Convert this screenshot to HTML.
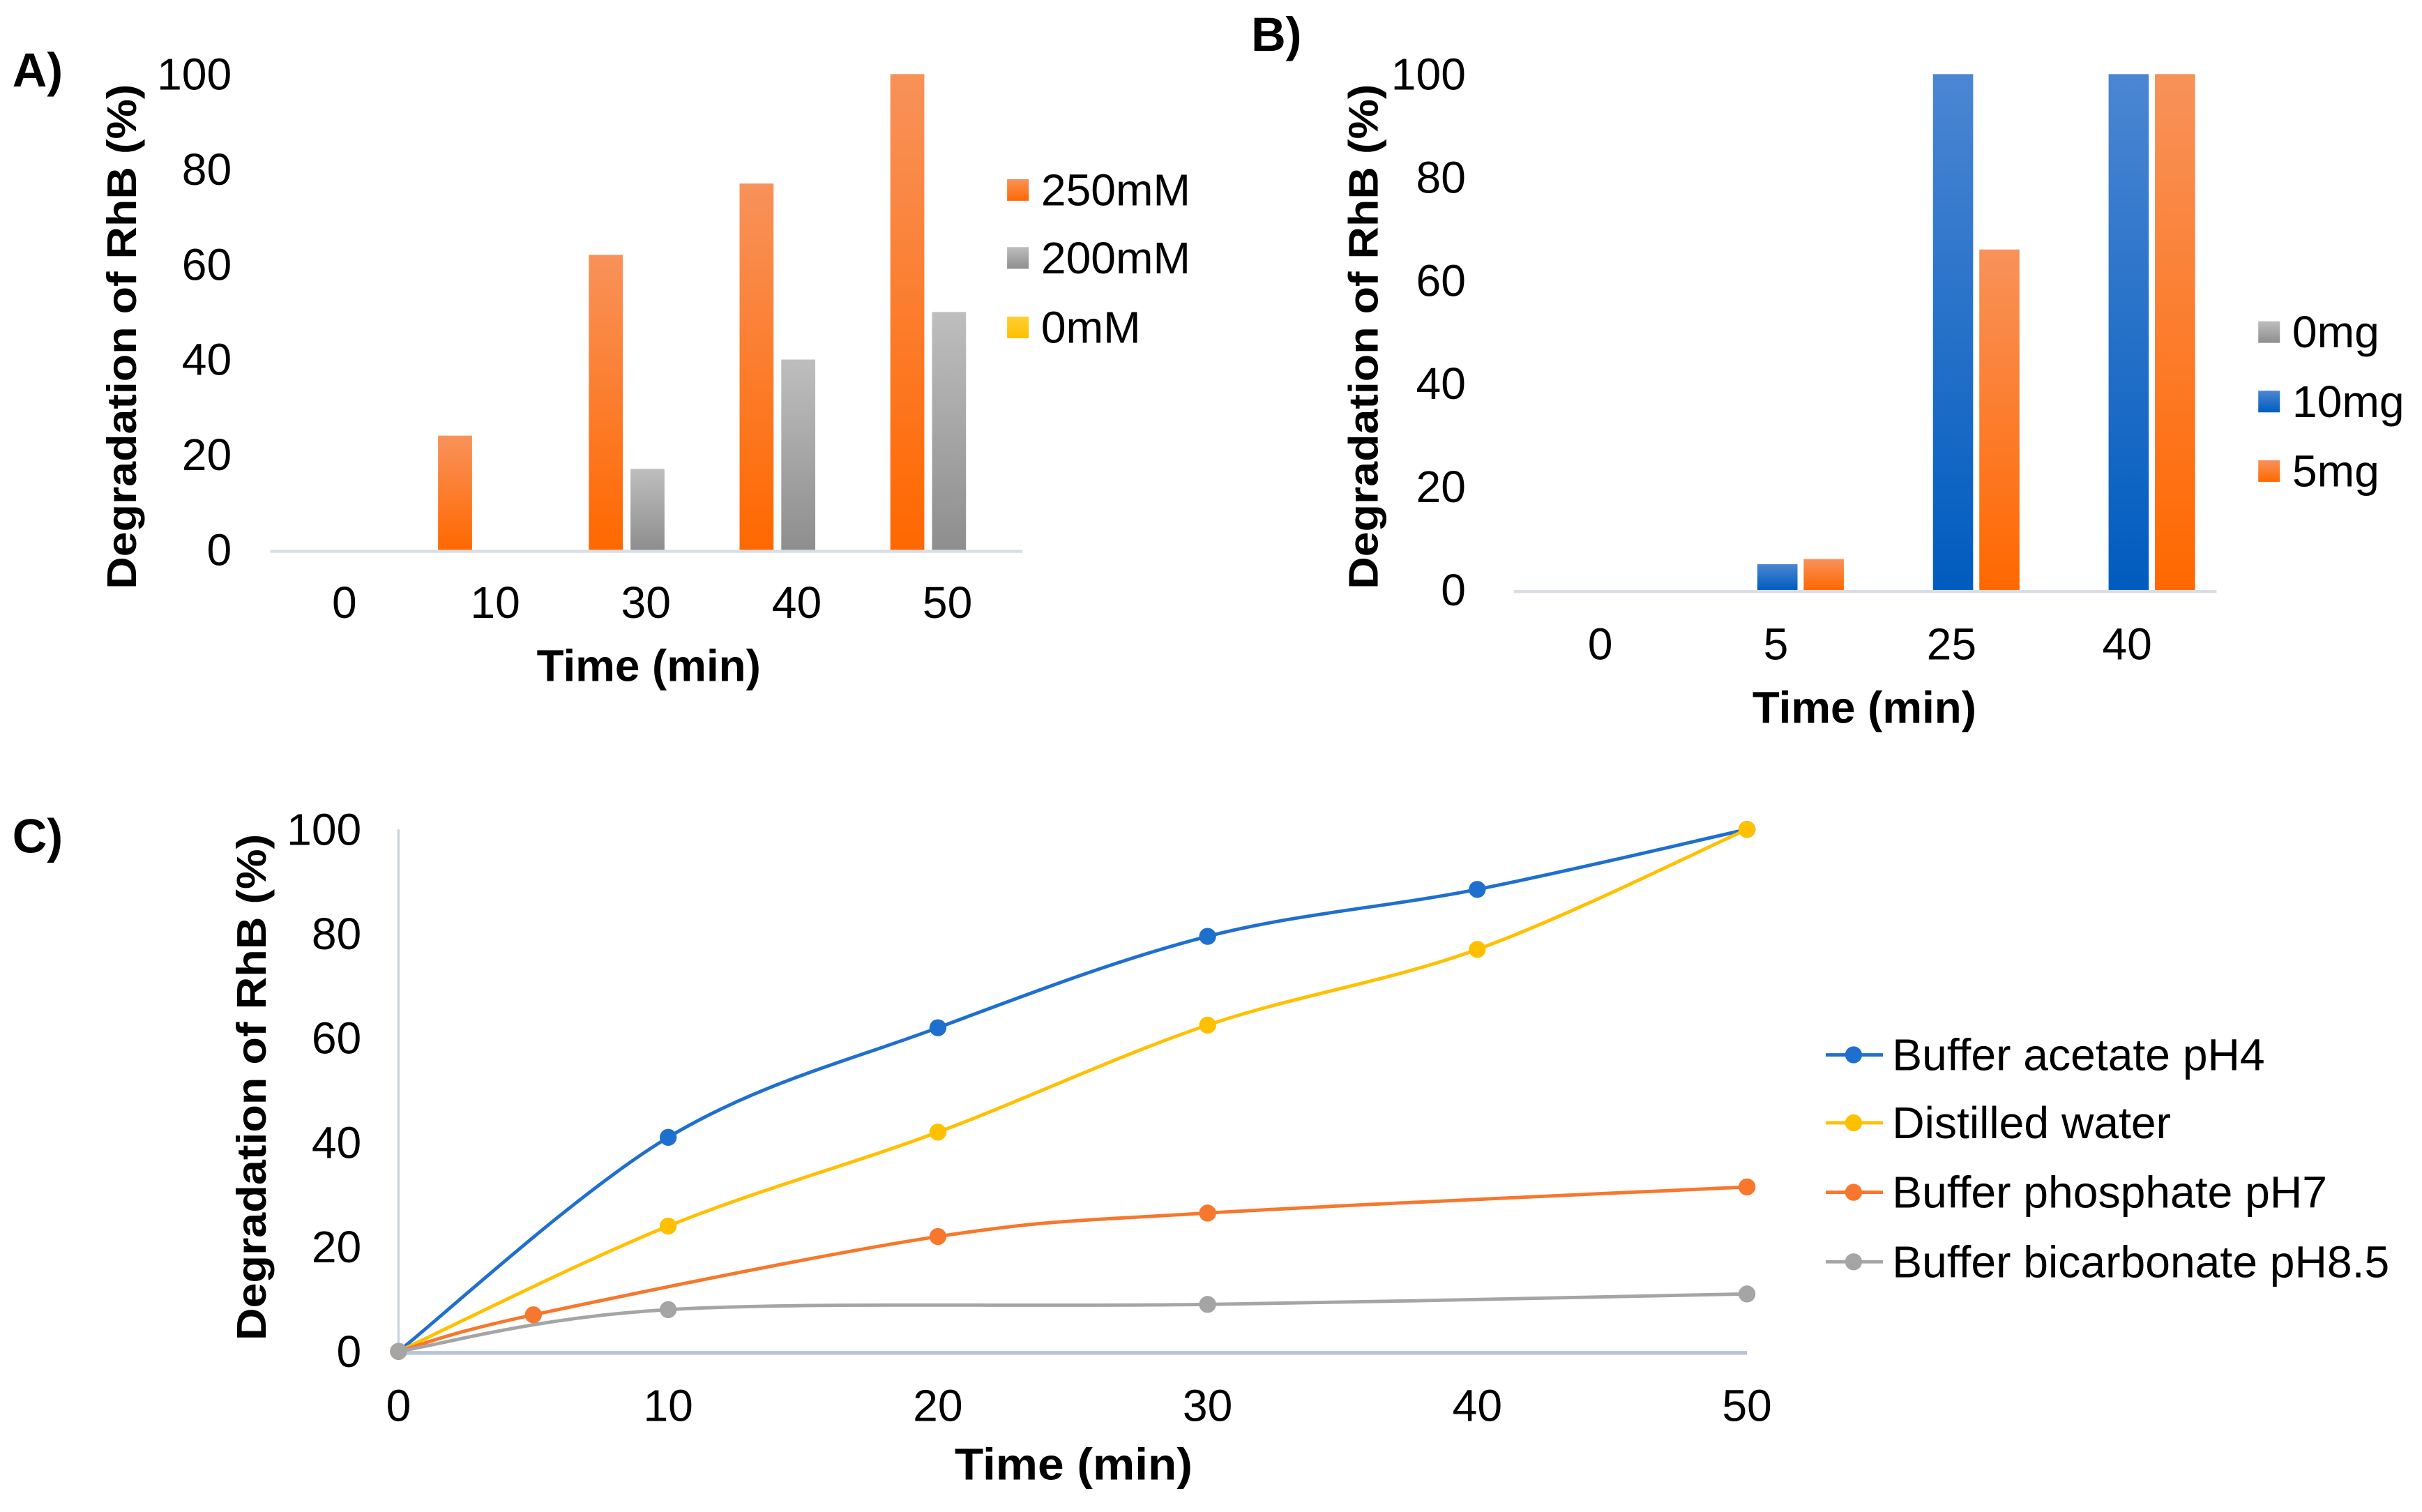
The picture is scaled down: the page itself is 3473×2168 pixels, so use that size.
<!DOCTYPE html>
<html><head><meta charset="utf-8"><style>
html,body{margin:0;padding:0;background:#fff}
svg{display:block}
text{font-family:"Liberation Sans",Arial,sans-serif;fill:#000}
</style></head><body>
<svg id="fig" xmlns="http://www.w3.org/2000/svg" width="3473" height="2168" viewBox="0 0 1568 979" preserveAspectRatio="none">
<defs>
<linearGradient id="gO" x1="0" y1="0" x2="0" y2="1"><stop offset="0" stop-color="#f8925a"/><stop offset="1" stop-color="#ff6800"/></linearGradient>
<linearGradient id="gG" x1="0" y1="0" x2="0" y2="1"><stop offset="0" stop-color="#bebebe"/><stop offset="1" stop-color="#8e8e8e"/></linearGradient>
<linearGradient id="gB" x1="0" y1="0" x2="0" y2="1"><stop offset="0" stop-color="#4b86d2"/><stop offset="1" stop-color="#005cbf"/></linearGradient>
<linearGradient id="gY" x1="0" y1="0" x2="0" y2="1"><stop offset="0" stop-color="#ffd030"/><stop offset="1" stop-color="#ffbf00"/></linearGradient>
</defs>
<g id="pA"></g>
<g id="pB"></g>
<g id="pC"></g>
</svg>
<script>
// Panel A data
const catsA = ["0","10","30","40","50"];
const a250 = [0,24,62,77,100];
const a200 = [0,0,17,40,50];
const a0 = [0,0,0,0,0];
const seriesNamesA = ["250mM","200mM","0mM"];
// Panel B data
const catsB = ["0","5","25","40"];
const b0 = [0,0,0,0];
const b10 = [0,5,100,100];
const b5 = [0,6,66,100];
const seriesNamesB = ["0mg","10mg","5mg"];
// Panel C data
const yTicks = [0,20,40,60,80,100];
const xTicksC = [0,10,20,30,40,50];
const acetX = [0,10,20,30,40,50], acetY = [0,41,62,79.5,88.5,100];
const waterX = [0,10,20,30,40,50], waterY = [0,24,42,62.5,77,100];
const phosX = [0,5,20,30,50], phosY = [0,7,22,26.5,31.5];
const bicX = [0,10,30,50], bicY = [0,8,9,11];
const seriesNamesC = ["Buffer acetate pH4","Distilled water","Buffer phosphate pH7","Buffer bicarbonate pH8.5"];

const NS="http://www.w3.org/2000/svg";
function mk(parent,tag,attrs,txt){const e=document.createElementNS(NS,tag);for(const k in attrs)e.setAttribute(k,attrs[k]);if(txt!==undefined)e.textContent=txt;parent.appendChild(e);return e;}

function barPanel(g,o){
  const y=v=>o.y0-(v/100)*(o.y0-o.y100);
  const xc=i=>o.x0c+i*o.step;
  let t=mk(g,'text',{x:o.lx,y:o.ly,'font-size':31,'font-weight':'bold'},o.letter);
  
  
  yTicks.forEach(v=>{let e=mk(g,'text',{x:o.ytx,y:y(v)+10,'font-size':29,'text-anchor':'end'},String(v));
    
    });
  let ax=mk(g,'line',{x1:o.bx1,x2:o.bx2,y1:o.y0+1,y2:o.y0+1,stroke:'#d9dee6','stroke-width':2});
  
  
  o.cats.forEach((c,i)=>{let e=mk(g,'text',{x:xc(i),y:o.xty,'font-size':29,'text-anchor':'middle'},c);
    
    });
  o.series.forEach((s,si)=>{
    s.vals.forEach((v,i)=>{ if(v<=0) return;
      const x=xc(i)+o.offs[si];
      let r=mk(g,'rect',{x:x,y:y(v),width:o.bw,height:o.y0-y(v),fill:s.fill});
      
      
    });
    let sq=mk(g,'rect',{x:o.legx,y:o.legy[si]-7,width:14,height:14,fill:s.fill});
    
    
    let lt=mk(g,'text',{x:o.legx+22,y:o.legy[si]+10,'font-size':29},s.name);
    
    
  });
  let yt=mk(g,'text',{x:0,y:0,'font-size':27,'font-weight':'bold','text-anchor':'middle',textLength:327,lengthAdjust:'spacingAndGlyphs',transform:`translate(${o.ytitx},${o.ytity}) rotate(-90)`},'Degradation of RhB (%)');
  
  
  let xt=mk(g,'text',{x:o.xtitx,y:o.xtity,'font-size':29,'font-weight':'bold','text-anchor':'middle',textLength:145,lengthAdjust:'spacingAndGlyphs'},'Time (min)');
  
  
}

barPanel(document.getElementById('pA'),{
  letter:'A)',lx:8,ly:56,y0:356,y100:48,x0c:223,step:97.6,bx1:175,bx2:662,
  ytx:150,xty:400,cats:catsA,bw:22,offs:[-37,-10,17],
  series:[{name:seriesNamesA[0],vals:a250,fill:'url(#gO)'},{name:seriesNamesA[1],vals:a200,fill:'url(#gG)'},{name:seriesNamesA[2],vals:a0,fill:'url(#gY)'}],
  legx:652,legy:[123,167,212],
  ytitx:88,ytity:218,xtitx:420,xtity:441
});
barPanel(document.getElementById('pB'),{
  letter:'B)',lx:810,ly:33,y0:382,y100:48,x0c:1036,step:113.7,bx1:980,bx2:1435,
  ytx:949,xty:427,cats:catsB,bw:26,offs:[-43,-12,18],
  series:[{name:seriesNamesB[0],vals:b0,fill:'url(#gG)'},{name:seriesNamesB[1],vals:b10,fill:'url(#gB)'},{name:seriesNamesB[2],vals:b5,fill:'url(#gO)'}],
  legx:1462,legy:[215,260,305],
  ytitx:892,ytity:218,xtitx:1207,xtity:468
});

// Panel C
(function(){
  const g=document.getElementById('pC');
  const X=v=>258+v/50*(1131-258), Y=v=>875-v/100*(875-537);
  let t=mk(g,'text',{x:8,y:552,'font-size':31,'font-weight':'bold'},'C)');
  
  
  let ya=mk(g,'line',{x1:258,x2:258,y1:537,y2:875,stroke:'#c9d3e3','stroke-width':1.5});
  
  
  let xa=mk(g,'line',{x1:258,x2:1131,y1:876,y2:876,stroke:'#b8c4d6','stroke-width':2.5});
  
  
  yTicks.forEach(v=>{let e=mk(g,'text',{x:234,y:Y(v)+10,'font-size':29,'text-anchor':'end'},String(v));
    
    });
  xTicksC.forEach(v=>{let e=mk(g,'text',{x:X(v),y:920,'font-size':29,'text-anchor':'middle'},String(v));
    
    });
  const ser=[[acetX,acetY,'#1f6fcf'],[waterX,waterY,'#ffc000'],[phosX,phosY,'#f7772c'],[bicX,bicY,'#a5a5a5']];
  function path(px,py){
    const p=px.map((x,i)=>[X(x),Y(py[i])]);
    let d=`M${p[0][0]},${p[0][1]}`;
    for(let i=0;i<p.length-1;i++){
      const p0=p[i-1]||p[i],p1=p[i],p2=p[i+1],p3=p[i+2]||p2;
      const c1=[p1[0]+(p2[0]-p0[0])/6,p1[1]+(p2[1]-p0[1])/6];
      const c2=[p2[0]-(p3[0]-p1[0])/6,p2[1]-(p3[1]-p1[1])/6];
      d+=` C${c1[0]},${c1[1]} ${c2[0]},${c2[1]} ${p2[0]},${p2[1]}`;
    }
    return d;
  }
  const legY=[683,727,772,817];
  ser.forEach((s,si)=>{
    let l=mk(g,'path',{d:path(s[0],s[1]),fill:'none',stroke:s[2],'stroke-width':2.2});
    
    
    s[0].forEach((x,i)=>{let c=mk(g,'circle',{cx:X(x),cy:Y(s[1][i]),r:5.5,fill:s[2]});
      
      });
    let ll=mk(g,'line',{x1:1182,x2:1219,y1:legY[si],y2:legY[si],stroke:s[2],'stroke-width':2.2});
    
    
    let lc=mk(g,'circle',{cx:1200,cy:legY[si],r:5.5,fill:s[2]});
    
    
    let lt=mk(g,'text',{x:1225,y:legY[si]+10,'font-size':29},seriesNamesC[si]);
    
    
  });
  let yt=mk(g,'text',{x:0,y:0,'font-size':27,'font-weight':'bold','text-anchor':'middle',textLength:328,lengthAdjust:'spacingAndGlyphs',transform:'translate(172,704) rotate(-90)'},'Degradation of RhB (%)');
  
  
  let xt=mk(g,'text',{x:695,y:958,'font-size':29,'font-weight':'bold','text-anchor':'middle','xml:space':'preserve',textLength:154,lengthAdjust:'spacingAndGlyphs'},'Time  (min)');
  
  
})();
</script>
</body></html>
